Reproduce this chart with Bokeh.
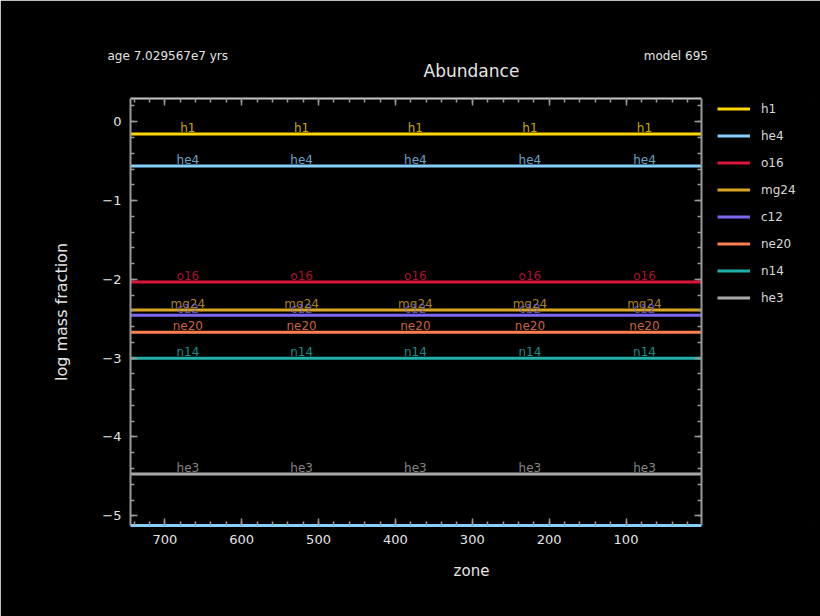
from bokeh.plotting import figure
from bokeh.models import (Range1d, LinearAxis, SingleIntervalTicker, Title,
                          Legend, LegendItem, ColumnDataSource, CustomLabelingPolicy)
from bokeh.core.properties import value
from bokeh.embed import file_html
from bokeh.resources import INLINE

# ---- data ----
species = ["h1", "he4", "o16", "mg24", "c12", "ne20", "n14", "he3"]
log_abund = [-0.155, -0.56, -2.033, -2.388, -2.456, -2.672, -3.001, -4.469]
colors = ["#FFD700", "#87CEFA", "#DC143C", "#DAA520", "#7B68EE", "#FF7F50", "#20B2AA", "#A9A9A9"]
zone_ends = [745, 1.8]
label_zones = [670, 522, 374, 225, 76]
title_text = "Abundance"
age_text = "age 7.029567e7 yrs"
model_text = "model 695"
x_label = "zone"
y_label = "log mass fraction"

FONT = "DejaVu Sans"
TXT = "#e4e4e4"
AX = "#9a9a9a"

# plotted zone interval and the vertical span
ZMAX, ZMIN = 744.6, 1.8
YMIN, YMAX = -5.123, 0.295

# frame spans 130..812 px; the zone axis occupies 130..701 px,
# the rest of the frame (to the right) holds the legend
LEFT, RIGHT_BORDER, AXIS_END = 130, 8, 701
frame_w = 820 - LEFT - RIGHT_BORDER
px_per_zone = (AXIS_END - LEFT) / (ZMAX - ZMIN)
x_end = ZMAX - frame_w / px_per_zone

p = figure(width=820, height=616,
           x_range=Range1d(ZMAX, x_end), y_range=Range1d(YMIN, YMAX),
           output_backend="svg", toolbar_location=None,
           background_fill_color="black", border_fill_color="black",
           outline_line_color="black", outline_line_width=1,
           min_border_left=LEFT, min_border_right=RIGHT_BORDER,
           min_border_top=98, min_border_bottom=91)
p.grid.visible = False

hide_labels = CustomLabelingPolicy(code="""
for (const i of indices) { indices.unset(i) }
return indices
""")


def style(ax, line_color, line_width):
    ax.axis_line_color = line_color
    ax.axis_line_width = line_width
    ax.major_tick_line_color = AX
    ax.minor_tick_line_color = AX
    ax.major_tick_line_width = 1.5
    ax.minor_tick_line_width = 1.5
    ax.major_tick_in = 7
    ax.major_tick_out = 0
    ax.minor_tick_in = 4
    ax.minor_tick_out = 0
    ax.major_label_text_color = TXT
    ax.major_label_text_font = FONT
    ax.major_label_text_font_size = "13px"
    ax.axis_label_text_color = TXT
    ax.axis_label_text_font = FONT
    ax.axis_label_text_font_style = "normal"


xa = p.xaxis[0]
xa.ticker = SingleIntervalTicker(interval=100, num_minor_ticks=5)
style(xa, "#87CEFA", 3)
xa.bounds = (ZMIN, ZMAX)
xa.major_label_standoff = 9
xa.axis_label = x_label
xa.axis_label_text_font_size = "15px"
xa.axis_label_standoff = 15

ya = p.yaxis[0]
ya.ticker = SingleIntervalTicker(interval=1, num_minor_ticks=5)
style(ya, AX, 2)
ya.major_label_standoff = 9
ya.axis_label = y_label
ya.axis_label_text_font_size = "16px"
ya.axis_label_standoff = 28

top = LinearAxis(ticker=SingleIntervalTicker(interval=100, num_minor_ticks=5))
style(top, "#c8c8c8", 2)
top.bounds = (ZMIN, ZMAX)
top.major_label_policy = hide_labels
top.major_label_standoff = 0
top.axis_label = title_text
top.axis_label_text_font_size = "17px"
top.axis_label_standoff = 6
p.add_layout(top, "above")

right = LinearAxis(ticker=SingleIntervalTicker(interval=1, num_minor_ticks=5))
style(right, AX, 2)
right.fixed_location = ZMIN
right.major_label_policy = hide_labels
right.major_label_text_font_size = "1px"
right.major_label_standoff = 0
p.add_layout(right, "right")

# ---- lines ----
items = []
for name, v, c in zip(species, log_abund, colors):
    r = p.line(x=zone_ends, y=[v, v], line_color=c, line_width=3)
    items.append(LegendItem(label=name, renderers=[r]))

# ---- inline labels ----
lx, ly, lt, lc = [], [], [], []
for name, v, c in zip(species, log_abund, colors):
    for z in label_zones:
        lx.append(z)
        ly.append(v)
        lt.append(name)
        lc.append(c)
src = ColumnDataSource(dict(x=lx, y=ly, text=lt, color=lc))
p.text(x="x", y="y", text="text", source=src, text_color="color",
       text_alpha=0.8, text_font=value(FONT), text_font_size="12px",
       text_align="center", text_baseline="alphabetic", y_offset=-6)

# ---- legend (inside the widened frame, right of the zone axis) ----
legend = Legend(items=items, location=(717 - LEFT, 217), orientation="vertical",
                glyph_width=33, glyph_height=21, spacing=6, label_standoff=11,
                padding=0, margin=0, background_fill_alpha=0,
                border_line_color=None, border_line_alpha=0,
                label_text_color="#d8d8d8",
                label_text_font=FONT, label_text_font_size="12px")
p.add_layout(legend)

# ---- age / model line ----
p.add_layout(Title(text=age_text + "\u00a0" * 109 + model_text, align="left",
                   offset=-23, text_font=FONT, text_font_size="12px",
                   text_font_style="normal", text_color=TXT, standoff=-11), "above")

open("out.html", "w").write(file_html(p, INLINE))
